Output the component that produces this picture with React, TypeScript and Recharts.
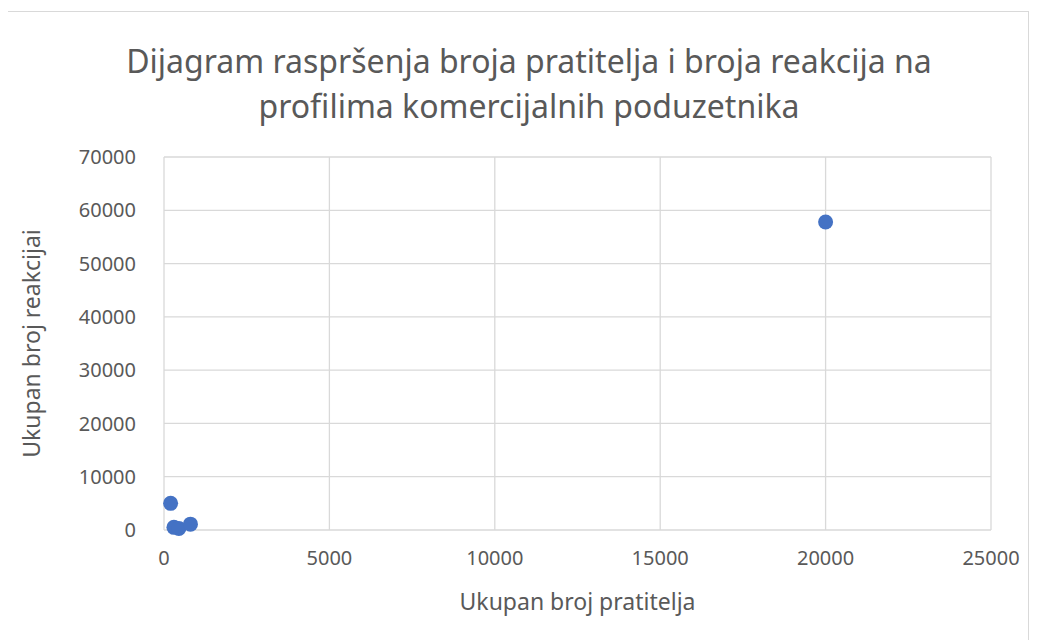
import { ScatterChart, Scatter, XAxis, YAxis, CartesianGrid } from "recharts";

// Ukupan broj pratitelja (x) i ukupan broj reakcija (y)
const pratitelji = [200, 300, 450, 800, 20000];
const reakcije = [5000, 500, 300, 1100, 57800];

const xTicks = [0, 5000, 10000, 15000, 20000, 25000];
const yTicks = [0, 10000, 20000, 30000, 40000, 50000, 60000, 70000];

const TITLE = ["Dijagram raspršenja broja pratitelja i broja reakcija na", "profilima komercijalnih poduzetnika"];

const FONT = "'Noto Sans', 'Open Sans', sans-serif";
const TEXT = "#595959";
const GRID = "#d9d9d9";

const points = pratitelji.map((x, i) => ({ x, y: reakcije[i] }));

function Dot(props: any) {
  const { cx, cy } = props;
  return <circle cx={cx} cy={cy} r={7.5} fill="#4472c4" />;
}

export default function App() {
  return (
    <div
      style={{
        position: "relative",
        width: 1022,
        height: 640,
        marginTop: 3,
        marginLeft: -1,
        border: `1px solid ${GRID}`,
        boxSizing: "border-box",
        background: "#fff",
        fontFamily: FONT,
      }}
    >
      <div
        style={{
          position: "absolute",
          top: 26,
          left: 0,
          width: 1042,
          textAlign: "center",
          fontSize: 32,
          lineHeight: "45px",
          color: TEXT,
        }}
      >
        {TITLE.map((t) => (
          <div key={t}>{t}</div>
        ))}
      </div>
      <ScatterChart width={1020} height={628} margin={{ top: 145, right: 37, left: 96, bottom: 70 }}>
        <CartesianGrid stroke={GRID} strokeWidth={1.3} />
        <XAxis
          type="number"
          dataKey="x"
          domain={[0, 25000]}
          ticks={xTicks}
          axisLine={false}
          tickLine={false}
          tickMargin={15}
          height={40}
          tick={{ fontSize: 20, fill: TEXT, fontFamily: FONT }}
          label={{
            value: "Ukupan broj pratitelja",
            position: "bottom",
            offset: 24,
            fontSize: 23,
            fill: TEXT,
            fontFamily: FONT,
          }}
        />
        <YAxis
          type="number"
          dataKey="y"
          domain={[0, 70000]}
          ticks={yTicks}
          axisLine={false}
          tickLine={false}
          tickMargin={22}
          width={60}
          tick={{ fontSize: 20, fill: TEXT, fontFamily: FONT }}
          label={{
            value: "Ukupan broj reakcijai",
            angle: -90,
            position: "left",
            offset: 72,
            fontSize: 23,
            fill: TEXT,
            fontFamily: FONT,
            style: { textAnchor: "middle" },
          }}
        />
        <Scatter data={points} shape={Dot} isAnimationActive={false} />
      </ScatterChart>
    </div>
  );
}
